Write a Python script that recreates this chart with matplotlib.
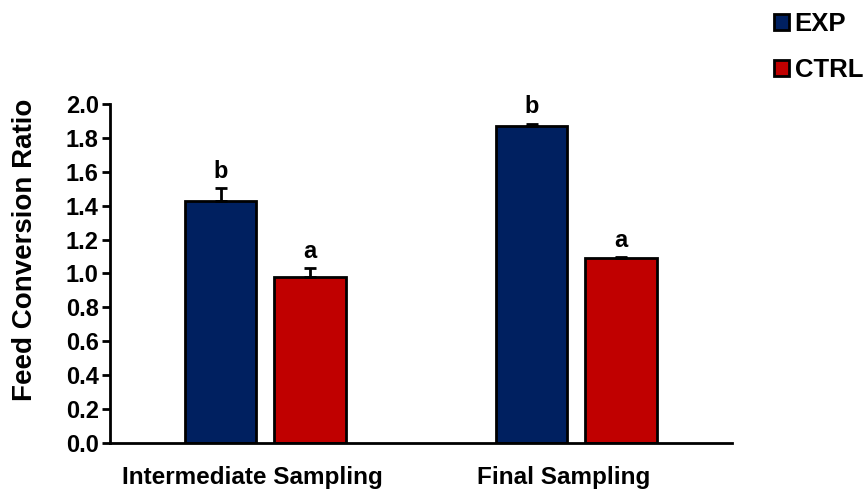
import matplotlib

matplotlib.use("Agg")

import matplotlib.pyplot as plt
import matplotlib.transforms as mtransforms
import numpy as np

plt.rcParams["font.family"] = ["Liberation Sans", "DejaVu Sans"]
plt.rcParams["font.weight"] = "bold"

categories = ["Intermediate Sampling", "Final Sampling"]
series_names = ["EXP", "CTRL"]
exp_values = [1.43, 1.87]
ctrl_values = [0.98, 1.09]
exp_errors = [0.075, 0.015]
ctrl_errors = [0.05, 0.008]
exp_letters = ["b", "b"]
ctrl_letters = ["a", "a"]
y_ticks = [0.0, 0.2, 0.4, 0.6, 0.8, 1.0, 1.2, 1.4, 1.6, 1.8, 2.0]

COLORS = {"EXP": "#002060", "CTRL": "#C00000"}

fig = plt.figure(figsize=(8.66, 4.91), dpi=100)
axis = fig.add_axes([0.127, 0.098, 0.718, 0.69])

x = np.arange(len(categories))
offset = 0.144
width = 0.23
groups = [
    ("EXP", exp_values, exp_errors, exp_letters, -offset),
    ("CTRL", ctrl_values, ctrl_errors, ctrl_letters, offset),
]
for name, values, errors, letters, shift in groups:
    positions = x + shift
    axis.bar(positions, values, width, color=COLORS[name], edgecolor="black",
             linewidth=2, label=name, zorder=2)
    axis.errorbar(positions, values, yerr=[np.zeros(len(values)), errors],
                  fmt="none", ecolor="black", elinewidth=2, capsize=4.5,
                  capthick=2, zorder=3)
    for pos, value, err, letter in zip(positions, values, errors, letters):
        axis.text(pos, value + err + 0.03, letter, ha="center", va="bottom",
                  fontsize=17, fontweight="bold")

axis.set_xlim(-0.5, 1.5)
axis.set_ylim(0, 2.0)
axis.set_yticks(y_ticks, [f"{t:.1f}" for t in y_ticks])
axis.set_xticks(x, categories)
axis.tick_params(axis="y", labelsize=17, width=2, length=6, direction="out", pad=2)
axis.tick_params(axis="x", labelsize=17.5, length=0, pad=17)
# category labels sit a little left of the bar groups, as in the original
shift_left = mtransforms.ScaledTranslation(-13 / 100, 0, fig.dpi_scale_trans)
for label in axis.get_xticklabels():
    label.set_transform(label.get_transform() + shift_left)
for label in axis.get_xticklabels() + axis.get_yticklabels():
    label.set_fontweight("bold")
axis.set_ylabel("Feed Conversion Ratio", fontsize=20, fontweight="bold")
axis.yaxis.set_label_coords(-0.115, 0.57)
axis.spines["top"].set_visible(False)
axis.spines["right"].set_visible(False)
axis.spines["left"].set_linewidth(2)
axis.spines["bottom"].set_linewidth(2)

axis.legend(loc="upper left", bbox_to_anchor=(0.867, 1.022), bbox_transform=fig.transFigure,
            frameon=False, prop={"size": 18.5, "weight": "bold"}, handlelength=0.6,
            handleheight=0.6, handletextpad=0.2, labelspacing=0.85)

fig.savefig("out.png", dpi=100)
